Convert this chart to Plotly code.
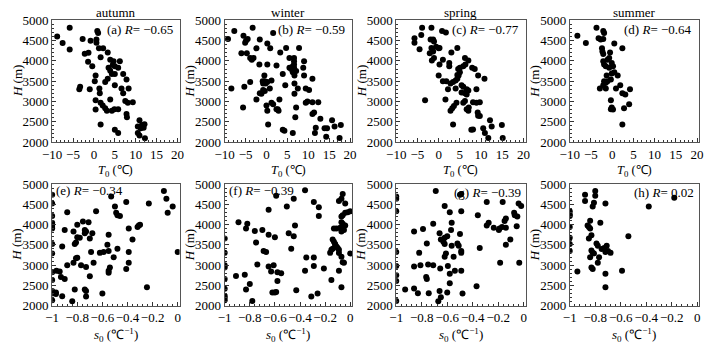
import plotly.graph_objects as go

# ---------------- data ----------------
seasons = ["autumn", "winter", "spring", "summer"]
r_T0 = ["−0.65", "−0.59", "−0.77", "−0.64"]
r_s0 = ["−0.34", "−0.39", "−0.39", "0.02"]

autumn_T = [-8.8,-7.5,-5.8,-5.8,-2.7,-0.8,-2.2,-1.3,-1.4,-0.4,0.8,1.0,0.6,0.6,1.2,2.2,1.6,3.3,0.4,0.2,-3.3,-3.5,-1.0,1.3,1.4,0.4,1.6,0.4,2.1,2.7,3.1,4.3,4.9,1.6,3.9,2.7,3.3,3.9,4.7,4.5,5.0,3.5,3.9,4.3,5.0,6.2,5.8,7.0,7.8,6.6,7.0,8.3,8.1,9.3,7.5,7.8,7.9,5.0,5.8,5.0,5.8,10.9,10.5,11.2,11.9,10.5,10.9,12.2,11.5,12.1]
autumn_H = [4600,4440,4820,4280,4540,4500,4180,4200,3980,3870,4740,4690,4530,4450,4310,4310,4090,4210,3640,3500,3360,3300,3300,3320,3200,3030,2970,2800,2900,2830,2770,2770,2810,2430,3050,3480,3560,4030,3990,3900,3870,3830,3760,3680,3680,3990,3830,3680,3540,3320,3200,3320,2970,2980,3010,2690,2610,2300,2220,3400,2810,2535,2380,2340,2350,2220,2160,2090,2420,2440]

winter_T = [-9.2,-7.7,-8.4,-3.3,-5.5,-4.9,-4.5,-5.1,-6.0,-4.7,-2.4,-1.6,1.6,0.2,0.9,-3.9,-3.5,-3.1,-1.7,0.2,2.4,3.3,4.7,3.9,4.5,-0.5,-0.9,-0.4,0.2,-0.8,-0.2,-3.9,-5.3,-1.6,-1.2,-0.8,-0.4,1.2,0.8,-2.4,0.0,0.2,1.2,1.6,2.4,2.7,2.9,3.1,-5.6,0.4,3.9,4.3,6.3,5.5,6.6,6.6,6.6,6.6,5.5,5.9,6.3,7.1,6.3,6.7,7.8,9.0,8.8,9.0,6.7,7.5,6.7,7.1,6.9,9.4,10.2,9.4,9.8,11.0,11.0,12.4,11.0,11.4,12.9,11.8,11.6,13.9,14.5,14.3,15.7,16.3,17.8,17.5]
winter_H = [4543,4740,3320,4820,4620,4500,4540,4450,4190,4190,4310,4530,4690,4430,4310,4070,4030,4070,3910,3910,3890,4210,4320,3680,3400,3640,3500,3500,3480,3440,3440,3480,3360,3200,3190,3280,3260,3520,3320,3050,2900,2770,2970,2930,2810,2810,2770,3050,2850,2430,2300,2280,2220,4070,4070,3990,3910,3830,3830,3800,3870,3750,3720,3640,4320,3990,3830,3640,3440,3320,3190,2850,2610,3320,3280,2970,3000,3560,2980,2980,2690,2730,2575,2350,2220,2340,2340,2130,2535,2380,2420,2100]

spring_T = [-3.9,-1.7,0.8,1.7,-5.7,-5.7,-4.1,-4.5,-1.9,-1.3,-1.1,-1.7,-0.6,0.0,0.2,-2.1,-1.3,-1.6,-1.1,0.2,1.0,3.0,4.4,2.5,2.5,0.0,1.0,1.8,2.2,2.8,3.4,4.0,4.4,4.4,5.0,4.7,4.6,5.0,6.2,7.0,5.8,6.3,7.9,8.5,9.3,10.8,4.0,5.4,5.8,6.6,7.0,5.4,6.2,6.6,8.9,-3.2,1.6,2.8,3.2,3.6,4.2,5.8,6.2,6.6,7.0,7.1,8.1,8.9,9.7,9.2,9.3,9.7,3.4,7.7,8.1,10.5,10.9,12.1,12.5,11.7,14.9,15.1]
spring_H = [4820,4820,4740,4700,4560,4450,4640,4290,4530,4530,4480,4320,4350,4310,4320,4190,4230,4010,4070,3910,4030,4210,4320,3950,3870,3640,3500,3500,3300,3440,3480,3520,3560,3650,3720,3640,3800,3830,4070,4010,3870,3910,3830,3800,3640,3560,3320,3400,3360,3300,3270,3220,3200,3170,3300,3030,3050,2770,2830,2890,2970,2970,3010,2810,2770,2850,2980,2970,2980,2730,2650,2640,2430,2300,2310,2340,2220,2535,2380,2100,2420,2100]

summer_T = [-8.2,-6.2,-3.7,-3.2,-2.7,-2.1,-2.1,-1.9,0.5,2.4,-2.4,-2.3,-2.1,-0.5,-0.7,-1.1,-2.1,-1.9,-0.1,0.2,-1.5,-0.7,-0.1,0.5,1.3,-1.3,-1.9,-1.5,-1.1,-2.1,-2.9,-1.5,-0.3,0.9,1.9,2.4,3.1,4.2,4.0,2.8,-0.3,-0.1,0.2,-0.3,2.4]
summer_H = [4620,4440,4820,4560,4530,4540,4740,4690,4430,4310,4310,4230,4170,4210,4070,4030,3990,3910,3950,3870,3870,3830,3690,3720,3640,3640,3500,3460,3500,3400,3320,3320,3540,3320,3400,3200,3170,3300,2930,2830,3030,2850,2800,2810,2430]

autumn_s = [-1,-1,-1,-1,-1,-1,-1,-1,-1,-1,-1,-1,-1,-1,-0.966,-0.94,-0.93,-0.90,-0.92,-0.90,-0.88,-0.97,-0.97,-0.92,-0.88,-0.84,-0.82,-0.83,-0.81,-0.80,-0.83,-0.80,-0.81,-0.82,-0.80,-0.78,-0.755,-0.71,-0.74,-0.73,-0.74,-0.68,-0.70,-0.77,-0.73,-0.74,-0.73,-0.73,-0.70,-0.69,-0.67,-0.65,-0.60,-0.62,-0.59,-0.56,-0.55,-0.55,-0.55,-0.55,-0.54,-0.53,-0.50,-0.49,-0.48,-0.46,-0.51,-0.48,-0.41,-0.41,-0.39,-0.39,-0.39,-0.36,-0.32,-0.31,-0.30,-0.245,-0.23,-0.11,-0.09,-0.08,-0.04,0.0]
autumn_Hs = [4737,4521,4213,4043,3997,3943,3904,3519,3288,2825,2632,2362,2301,2131,2863,2840,2710,2655,3457,3866,4305,2324,2285,2231,2995,2108,2401,3056,3172,3180,3827,3997,3557,3519,3689,3673,4074,4058,3866,3827,3789,3789,3658,2995,2956,2401,2362,2224,2725,3326,3056,4328,2301,3303,3326,3503,3750,3349,2863,2810,2941,4691,4444,4290,4228,4213,3195,3403,4560,2902,3326,3904,3056,3635,3943,3981,3997,2455,4521,4830,4637,4290,4444,3326]

winter_s = [-1,-1,-1,-1,-1,-1,-1,-1,-1,-0.91,-0.84,-0.89,-0.83,-0.82,-0.83,-0.80,-0.78,-0.76,-0.75,-0.74,-0.70,-0.69,-0.67,-0.65,-0.65,-0.65,-0.63,-0.62,-0.60,-0.59,-0.61,-0.60,-0.59,-0.58,-0.58,-0.55,-0.505,-0.49,-0.47,-0.45,-0.44,-0.45,-0.43,-0.36,-0.36,-0.35,-0.31,-0.29,-0.29,-0.29,-0.25,-0.25,-0.26,-0.21,-0.16,-0.15,-0.14,-0.15,-0.14,-0.13,-0.12,-0.11,-0.10,-0.12,-0.09,-0.09,-0.13,-0.11,-0.08,-0.07,-0.06,-0.07,-0.06,-0.09,-0.07,-0.06,-0.04,-0.04,-0.02,0.0,-0.07,-0.05,-0.07,-0.06,-0.05,-0.09,-0.07,0.0,-0.04]
winter_Hs = [3658,3303,2995,2941,2655,2416,2247,2193,2131,2733,2763,4058,3904,4020,2401,2532,2116,3843,3557,3018,3866,3349,3326,4367,3750,2964,2840,2324,2324,2340,2995,3689,4714,2825,2609,2802,4444,3789,3403,3712,3981,4637,2378,4845,2863,3187,2224,3187,2979,4560,4429,4213,2301,2918,3303,3380,3403,2632,3630,3580,3500,3460,3420,3520,3380,3300,3904,3904,3920,4058,4020,4198,4228,4583,4637,4753,4521,4290,4305,4328,3827,3866,3210,3072,3056,2863,2455,3288,3981]

spring_s = [-1,-1,-1,-1,-1,-1,-1,-1,-0.93,-0.86,-0.86,-0.86,-0.83,-0.82,-0.81,-0.79,-0.76,-0.75,-0.765,-0.76,-0.745,-0.71,-0.71,-0.69,-0.67,-0.66,-0.65,-0.66,-0.655,-0.65,-0.63,-0.62,-0.60,-0.62,-0.62,-0.61,-0.62,-0.60,-0.595,-0.58,-0.58,-0.58,-0.565,-0.57,-0.565,-0.55,-0.54,-0.52,-0.51,-0.50,-0.50,-0.49,-0.49,-0.49,-0.49,-0.48,-0.49,-0.37,-0.36,-0.345,-0.29,-0.29,-0.275,-0.235,-0.195,-0.19,-0.185,-0.17,-0.165,-0.15,-0.14,-0.14,-0.14,-0.105,-0.075,-0.07,-0.05,-0.055,-0.04,-0.02,-0.035]
spring_Hs = [4691,4637,4328,3326,2979,2748,2609,2116,2401,3827,2964,2424,2308,3303,2995,3889,3534,3018,2709,2655,2308,2995,4020,4830,2108,2362,2208,3789,2918,3635,3580,3673,3712,3519,4460,3288,3210,2324,2979,2786,4305,2555,4043,3866,3480,3210,2863,3534,3480,3766,4737,4328,3349,3303,2863,2301,4753,2478,4228,3426,4560,3981,4043,3920,3866,3904,3056,3943,4560,4090,4151,3920,3503,3635,4290,4228,4198,3958,4521,4460,3056]

summer_s = [-1,-1,-1,-1,-1,-1,-1,-0.94,-0.88,-0.88,-0.80,-0.80,-0.81,-0.82,-0.72,-0.84,-0.86,-0.85,-0.84,-0.76,-0.85,-0.83,-0.79,-0.78,-0.83,-0.82,-0.81,-0.84,-0.77,-0.78,-0.75,-0.73,-0.71,-0.70,-0.68,-0.72,-0.83,-0.82,-0.72,-0.72,-0.59,-0.54,-0.38,-0.18]
summer_Hs = [4328,4251,4213,3943,3673,3519,3349,2840,4737,4583,4830,4714,4537,4444,4521,4097,3981,3943,3904,4043,3658,3735,3534,3480,3364,3303,3288,3195,3195,3056,3400,3420,3480,3349,3303,3326,2941,2902,2786,2455,2863,3712,4444,4660]

T_data = [(autumn_T, autumn_H), (winter_T, winter_H), (spring_T, spring_H), (summer_T, summer_H)]
s_data = [(autumn_s, autumn_Hs), (winter_s, winter_Hs), (spring_s, spring_Hs), (summer_s, summer_Hs)]
letters_top = ["a", "b", "c", "d"]
letters_bot = ["e", "f", "g", "h"]

# ---------------- layout geometry (pixels) ----------------
W, H = 710, 351
col_px = [(43, 173), (219, 349), (394, 526), (571, 703)]
row_px = [(14, 141), (185, 312)]
FONT = "Liberation Serif"
FS = 13

def xd(a, b):
    return [a / W, b / W]

def yd(t, b):
    return [1 - b / H, 1 - t / H]

fig = go.Figure()
layout = dict(
    width=W, height=H, margin=dict(l=0, r=0, t=0, b=0),
    paper_bgcolor="white", plot_bgcolor="white", showlegend=False,
    font=dict(family=FONT, size=FS, color="black"),
)
annotations = []

def axis_common():
    return dict(
        showgrid=False, zeroline=False, showline=True, mirror=True,
        linecolor="#555", linewidth=1, ticks="inside", ticklen=4,
        tickcolor="#333", tickwidth=1, tickangle=0,
        tickfont=dict(family=FONT, size=FS, color="black"),
    )

idx = 0
for row in range(2):
    for col in range(4):
        idx += 1
        sx = "" if idx == 1 else str(idx)
        xs, ys = (T_data if row == 0 else s_data)[col]
        fig.add_trace(go.Scatter(
            x=xs, y=ys, mode="markers", xaxis="x" + sx, yaxis="y" + sx,
            marker=dict(size=6, color="black"), hoverinfo="skip",
        ))
        xa = axis_common()
        ya = axis_common()
        xa.update(domain=xd(*col_px[col]), anchor="y" + sx)
        ya.update(domain=yd(*row_px[row]), anchor="x" + sx,
                  range=[2000, 5000], dtick=500, tick0=2000,
                  minor=dict(dtick=100, ticks="inside", ticklen=2, tickcolor="#333"))
        if row == 0:
            xa.update(range=[-10, 20.5], dtick=5, tick0=-10,
                      minor=dict(dtick=1, ticks="inside", ticklen=2, tickcolor="#333"))
        else:
            xa.update(range=[-1, 0.015], dtick=0.2, tick0=-1,
                      minor=dict(dtick=0.04, ticks="inside", ticklen=2, tickcolor="#333"))
        layout["xaxis" + sx] = xa
        layout["yaxis" + sx] = ya

        x0, x1 = col_px[col]
        t, b = row_px[row]
        # y axis title
        annotations.append(dict(
            text="<i>H</i> (m)", xref="paper", yref="paper",
            x=(x0 - 36) / W, y=1 - (t + b) / 2 / H, textangle=-90,
            showarrow=False, xanchor="center", yanchor="middle",
            font=dict(family=FONT, size=FS)))
        # x axis title
        if row == 0:
            xt = "<i>T</i><sub>0</sub> (℃)"
            ty = b + 30
            fs_t = 12.5
        else:
            xt = "<i>s</i><sub>0</sub> (℃<sup>−1</sup>)"
            ty = b + 31
            fs_t = FS
        annotations.append(dict(
            text=xt, xref="paper", yref="paper",
            x=(x0 + x1) / 2 / W, y=1 - ty / H,
            showarrow=False, xanchor="center", yanchor="middle",
            font=dict(family=FONT, size=fs_t)))
        # season titles
        if row == 0:
            annotations.append(dict(
                text=seasons[col], xref="paper", yref="paper",
                x=(x0 + x1) / 2 / W, y=1 - 6 / H,
                showarrow=False, xanchor="center", yanchor="middle",
                font=dict(family=FONT, size=13)))
            rt = f"({letters_top[col]}) <i>R</i>= {r_T0[col]}"
            annotations.append(dict(
                text=rt, xref="paper", yref="paper",
                x=(x1 - 5) / W, y=1 - (t + 9) / H,
                showarrow=False, xanchor="right", yanchor="middle",
                font=dict(family=FONT, size=FS)))
        else:
            rt = f"({letters_bot[col]}) <i>R</i>= {r_s0[col]}"
            if col < 2:
                annotations.append(dict(
                    text=rt, xref="paper", yref="paper",
                    x=(x0 + 2) / W, y=1 - (t + 7) / H,
                    showarrow=False, xanchor="left", yanchor="middle",
                    font=dict(family=FONT, size=FS)))
            else:
                annotations.append(dict(
                    text=rt, xref="paper", yref="paper",
                    x=(x1 - 3) / W, y=1 - (t + 9) / H,
                    showarrow=False, xanchor="right", yanchor="middle",
                    font=dict(family=FONT, size=FS)))

layout["annotations"] = annotations
fig.update_layout(**layout)
fig.write_html("out.html")
